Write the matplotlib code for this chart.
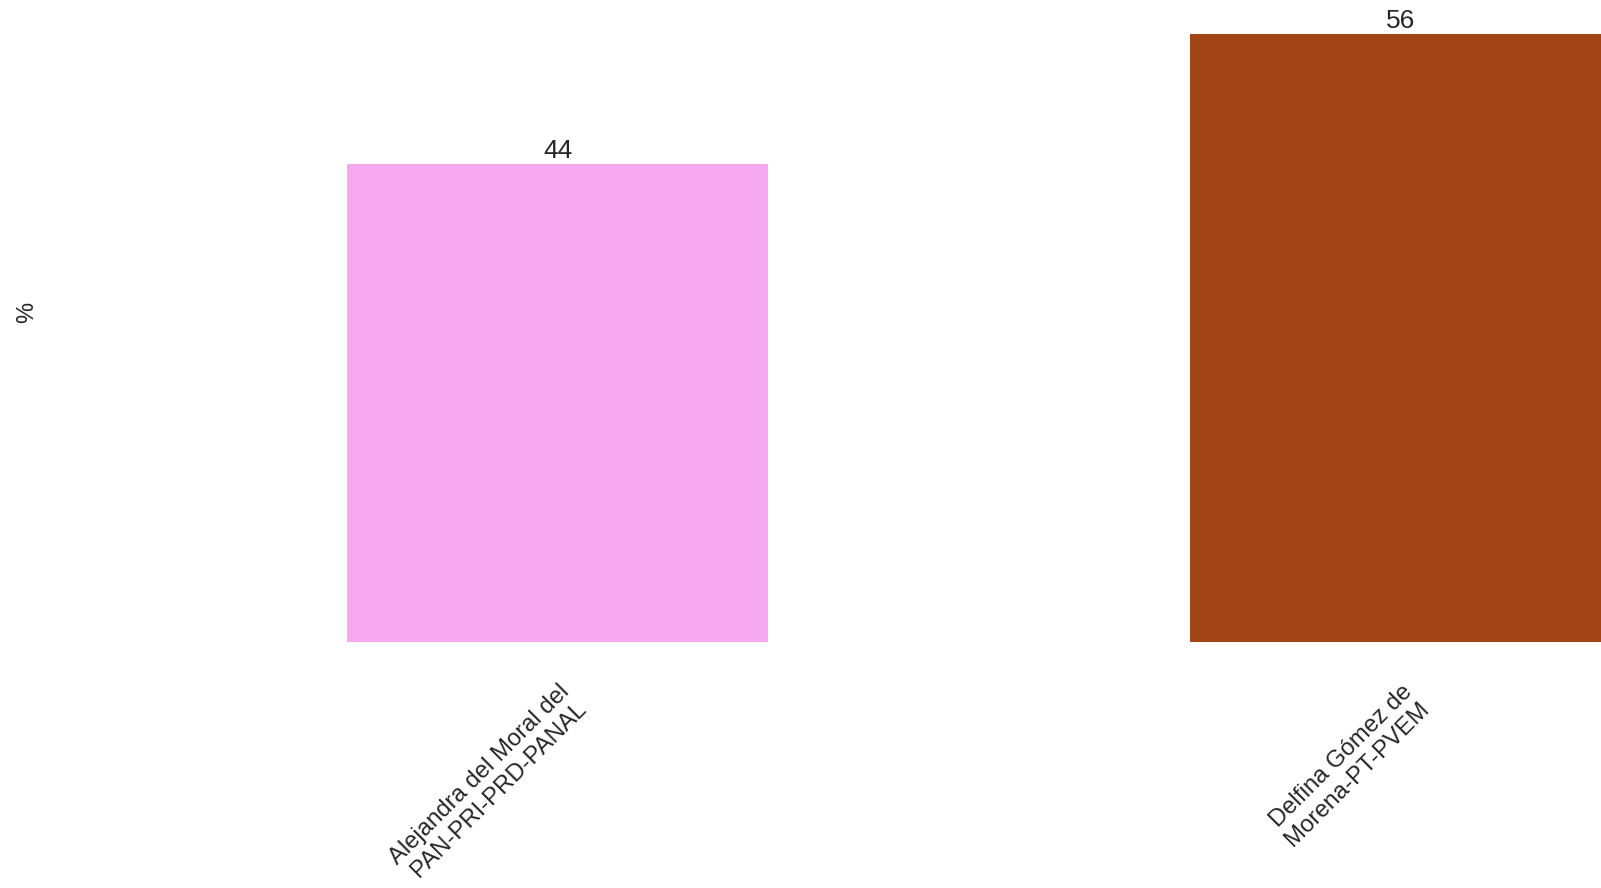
import matplotlib
matplotlib.use("Agg")
import matplotlib.pyplot as plt
import matplotlib.transforms as mtransforms

categories = ["Alejandra del Moral del\nPAN-PRI-PRD-PANAL", "Delfina Gómez de\nMorena-PT-PVEM"]
values = [44, 56]
colors = ["#F5A8EE", "#A24618"]

plt.rcParams['font.family'] = ['Liberation Sans', 'DejaVu Sans']
text_color = "#262626"

W, H = 1601, 888
fig = plt.figure(figsize=(W / 100, H / 100), dpi=100)
ax = fig.add_axes([40 / W, (H - 642) / H, 1561 / W, 642 / H])

x = list(range(len(categories)))
bars = ax.bar(x, values, width=0.5, color=colors)
ax.set_xlim(-0.614, 1.238)
ax.set_ylim(0, 59.1)

for b, v in zip(bars, values):
    ax.annotate(f"{v}", (b.get_x() + b.get_width() / 2, v), xytext=(0, 0.5),
                textcoords="offset points", ha="center", va="bottom",
                fontsize=19, color=text_color)

ax.set_xticks(x)
ax.set_xticklabels(categories, rotation=45, ha="right", va="center",
                   rotation_mode="anchor", fontsize=17.2, color=text_color,
                   linespacing=1.15, multialignment="right")
ax.tick_params(axis="x", length=0, pad=0)
offset = mtransforms.ScaledTranslation(0.17, -0.55, fig.dpi_scale_trans)
for lbl in ax.get_xticklabels():
    lbl.set_transform(lbl.get_transform() + offset)

ax.set_yticks([])
ax.set_ylabel("%", fontsize=17, color=text_color)
ax.yaxis.set_label_coords(-2 / 1561, 0.514)

for s in ax.spines.values():
    s.set_visible(False)
ax.set_facecolor("white")
fig.patch.set_facecolor("white")

fig.savefig("out.png", dpi=100, facecolor="white")
